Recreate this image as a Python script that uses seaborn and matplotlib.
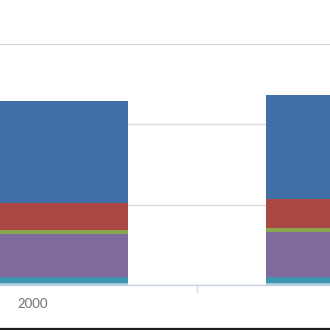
import matplotlib
matplotlib.use("Agg")
import matplotlib.pyplot as plt
from matplotlib.lines import Line2D
from matplotlib.ticker import FixedLocator
import seaborn as sns
import pandas as pd
import numpy as np

years = ["2000", "2001"]
s_light = [0.4, 0.4]
s_teal = [1.5, 1.5]
s_purple = [10.7, 11.4]
s_olive = [1.0, 1.0]
s_red = [6.7, 7.0]
s_blue = [25.4, 26.1]

series = [s_light, s_teal, s_purple, s_olive, s_red, s_blue]
colors = ["#9CCBE0", "#3D96AE", "#80699B", "#89A54E", "#AA4643", "#4070A5"]

sns.set_theme(style="white")
plt.rcParams["font.family"] = ["Lato", "DejaVu Sans"]

fig = plt.figure(figsize=(3.3, 3.3), dpi=100)
ax = fig.add_axes([0.0, (330 - 285) / 330, 1.0, 241 / 330])

cum = np.cumsum(np.array(series), axis=0)
# draw from tallest (top series) to shortest so lower segments cover upper
for i in range(len(series) - 1, -1, -1):
    df = pd.DataFrame({"year": years, "value": cum[i]})
    sns.barplot(data=df, x="year", y="value", color=colors[i], width=0.58,
                saturation=1, ax=ax, zorder=2, linewidth=0)

ax.set_ylim(0, 60)
ax.set_yticks([0, 20, 40, 60])
ax.yaxis.grid(True, color="#D9D9D9", linewidth=1.0, zorder=0)
ax.set_axisbelow(True)
ax.set_yticklabels([])
ax.tick_params(axis="y", length=0)

px_per_unit = 328
left = 0 - 33 / px_per_unit
ax.set_xlim(left, left + 330 / px_per_unit)
ax.set_xlabel("")
ax.set_ylabel("")
ax.tick_params(axis="x", which="major", length=0, pad=9, labelsize=9.5,
               labelcolor="#707070")
ax.xaxis.set_minor_locator(FixedLocator([0.5]))
ax.tick_params(axis="x", which="minor", bottom=True, length=6, width=1,
               color="#D0DCE8", direction="out")

for s in ["top", "left", "right"]:
    ax.spines[s].set_visible(False)
ax.spines["bottom"].set_color("#C8D6E4")
ax.spines["bottom"].set_linewidth(1.0)

fig.add_artist(Line2D([0, 1], [1.0 / 330, 1.0 / 330], transform=fig.transFigure,
                      color="#1E1E1E", linewidth=1.6))

fig.savefig("out.png", dpi=100)
